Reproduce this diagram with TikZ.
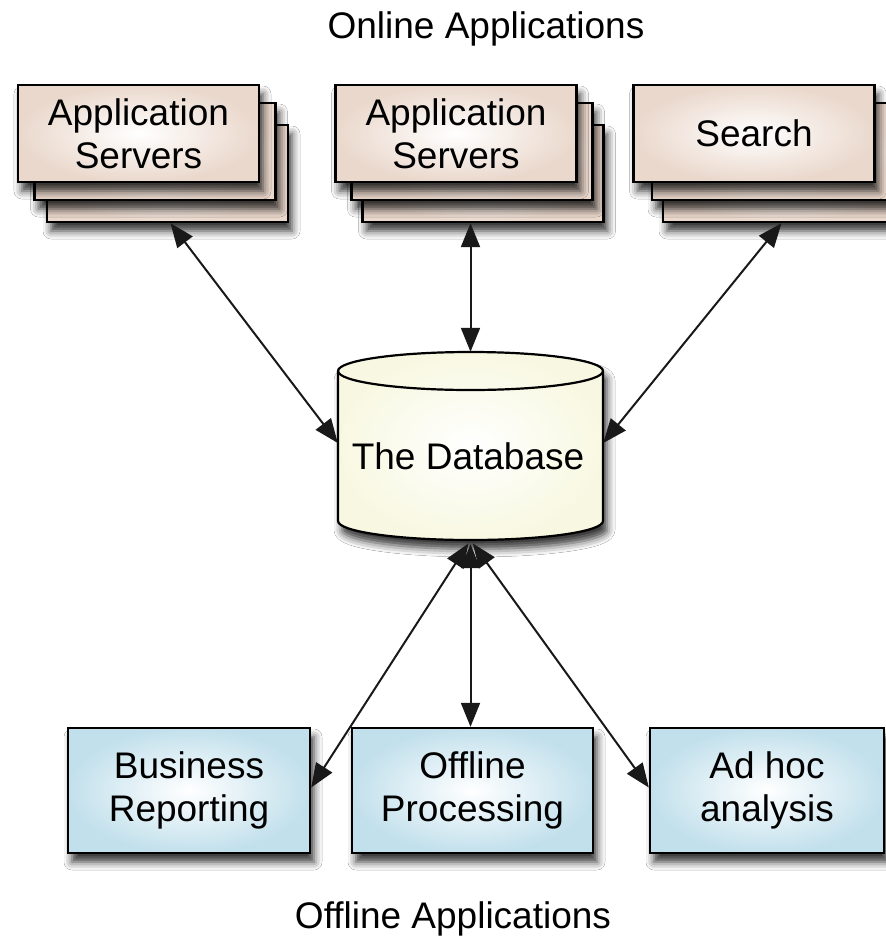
\documentclass[tikz,border=0pt]{standalone}
\usepackage{fontspec}
\setmainfont{Liberation Sans}
\usetikzlibrary{arrows.meta,shadows.blur}

\definecolor{cardpink}{RGB}{234,216,204}
\definecolor{boxblue}{RGB}{194,224,236}
\definecolor{dbcream}{RGB}{248,248,226}

\tikzset{
  dropshadow/.style={blur shadow={shadow xshift=4pt, shadow yshift=-9pt,
      shadow blur radius=8pt, shadow opacity=80}},
  label/.style={font=\fontsize{37}{43}\selectfont, align=center, inner sep=0pt},
  card/.style={label, draw=black, line width=2.4pt, inner color=white,
      outer color=cardpink, minimum width=241pt, minimum height=97pt, dropshadow},
  appbox/.style={label, draw=black, line width=2.4pt, inner color=white,
      outer color=boxblue, minimum height=125pt, dropshadow},
  link/.style={{Triangle[length=24pt,width=19pt]}-{Triangle[length=24pt,width=19pt]},
      line width=2pt, black!90},
}

\begin{document}
\begin{tikzpicture}[x=1pt,y=-1pt]
  \useasboundingbox (0,0) rectangle (886,940);
  \fill[white] (0,0) rectangle (886,940);
  \clip (0,0) rectangle (886,940);

  % headings
  \node[label] (online) at (486,28.5) {Online Applications};
  \node[label] (offline) at (453,919) {Offline Applications};

  % left stack of application servers
  \node[card] (lapp3) at (167.5,173.5) {};
  \node[card] (lapp2) at (155,151.5) {};
  \node[card] (lapp) at (138.5,133.5) {Application\\Servers};

  % middle stack of application servers
  \node[card] (mapp3) at (483,173.5) {};
  \node[card] (mapp2) at (472,151.5) {};
  \node[card] (mapp) at (456,133.5) {Application\\Servers};

  % search stack
  \node[card] (srch3) at (783.5,173.5) {};
  \node[card] (srch2) at (772.5,151.5) {};
  \node[card] (srch) at (754,133.5) {Search};

  % the database cylinder
  \path[draw=black, line width=2.2pt, inner color=white, outer color=dbcream, dropshadow]
    (338,371) -- (338,521)
    .. controls (338,531.5) and (397.3,540) .. (470.5,540)
    .. controls (543.7,540) and (603,531.5) .. (603,521)
    -- (603,371)
    .. controls (603,360.5) and (543.7,352) .. (470.5,352)
    .. controls (397.3,352) and (338,360.5) .. (338,371) -- cycle;
  \draw[line width=2.2pt]
    (338,371) .. controls (338,381.5) and (397.3,390) .. (470.5,390)
    .. controls (543.7,390) and (603,381.5) .. (603,371);
  \node[inner sep=0pt, minimum width=265pt, minimum height=188pt] (db) at (470.5,446) {};
  \node[label] (dblabel) at (468,456.5) {The Database};

  % offline applications
  \node[appbox, minimum width=242pt] (br) at (189,790.5) {Business\\Reporting};
  \node[appbox, minimum width=241pt] (op) at (472.5,790.5) {Offline\\Processing};
  \node[appbox, minimum width=234pt] (ah) at (767,790.5) {Ad hoc\\analysis};

  % online connectors
  \draw[link] ([xshift=3pt]lapp3.south) -- ([yshift=3pt]db.west);
  \draw[link] (mapp3.south -| db.north) -- (db.north);
  \draw[link] ([xshift=-2pt]srch3.south) -- ([yshift=3pt]db.east);

  % offline connectors
  \draw[link, shorten <=4pt] (db.south) -- ([yshift=3pt]br.east);
  \draw[link, shorten <=4pt] (db.south) -- (db.south |- op.north);
  \draw[link, shorten <=4pt] (db.south) -- ([yshift=3pt]ah.west);
\end{tikzpicture}
\end{document}
